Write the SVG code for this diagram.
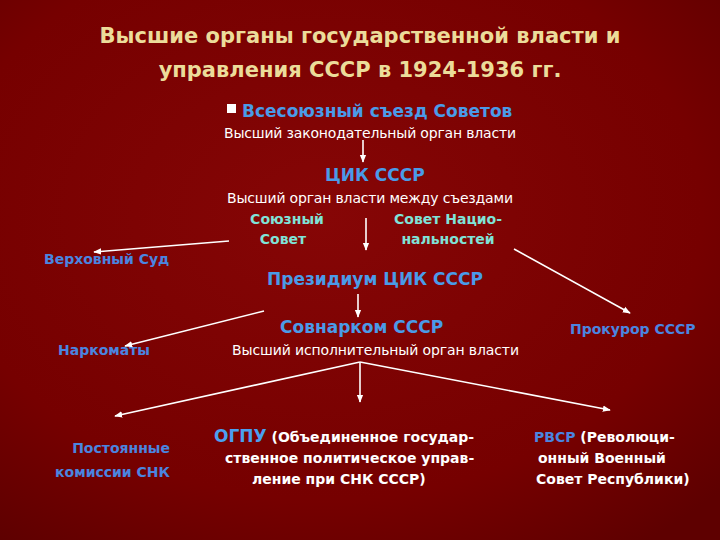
<svg xmlns="http://www.w3.org/2000/svg" width="720" height="540" viewBox="0 0 720 540">
<defs>
<radialGradient id="bg" cx="0.45" cy="0.4" r="0.75">
<stop offset="0" stop-color="#860606"/>
<stop offset="0.7" stop-color="#760000"/>
<stop offset="1" stop-color="#5e0000"/>
</radialGradient>
<marker id="ah" viewBox="0 0 10 10" refX="9" refY="5" markerWidth="5" markerHeight="5" orient="auto"><path d="M0,1 L10,5 L0,9 z" fill="#fff"/></marker>
</defs>
<style>
text{font-family:"DejaVu Sans","Liberation Sans",sans-serif}
.t{fill:#ecdc9a;font-weight:bold;font-size:21px;text-anchor:middle}
.b{fill:#4a9be8;font-weight:bold;font-size:17px}
.s{fill:#4a85e0;font-weight:bold;font-size:14px}
.w{fill:#fff;font-size:14px}
.wb{fill:#fff;font-weight:bold;font-size:14px}
.c{fill:#7fe3d8;font-weight:bold;font-size:14px;text-anchor:middle}
line{stroke:#fff;stroke-width:1.6;marker-end:url(#ah)}
</style>
<rect width="720" height="540" fill="url(#bg)"/>
<g id="title"><text class="t" x="360" y="43">Высшие органы государственной власти и</text><text class="t" x="360" y="77">управления СССР в 1924-1936 гг.</text></g>
<g id="congress"><rect x="227" y="104" width="9" height="9" fill="#fff"/><text class="b" x="242" y="117">Всесоюзный съезд Советов</text><text class="w" x="224" y="138" textLength="292">Высший законодательный орган власти</text></g>
<g id="cik"><text class="b" x="325" y="181">ЦИК СССР</text><text class="w" x="227" y="203" textLength="286">Высший орган власти между съездами</text></g>
<g id="soyuz"><text class="c" x="287" y="224">Союзный</text><text class="c" x="283" y="244">Совет</text></g>
<g id="nac"><text class="c" x="448" y="224">Совет Нацио-</text><text class="c" x="448" y="244">нальностей</text></g>
<g id="sud"><text class="s" x="44" y="264">Верховный Суд</text></g>
<g id="prez"><text class="b" x="267" y="285">Президиум ЦИК СССР</text></g>
<g id="sovnarkom"><text class="b" x="280" y="333">Совнарком СССР</text><text class="w" x="232" y="355" textLength="287">Высший исполнительный орган власти</text></g>
<g id="narkom"><text class="s" x="58" y="355">Наркоматы</text></g>
<g id="prok"><text class="s" x="570" y="334">Прокурор СССР</text></g>
<g id="comm"><text class="s" x="170" y="453" text-anchor="end">Постоянные</text><text class="s" x="170" y="477" text-anchor="end">комиссии  СНК</text></g>
<g id="ogpu"><text x="214" y="442" class="wb"><tspan fill="#4aa0f0" font-size="17">ОГПУ</tspan> (Объединенное государ-</text><text class="wb" x="225" y="463">ственное политическое управ-</text><text class="wb" x="252" y="484">ление при СНК СССР)</text></g>
<g id="rvsr"><text x="534" y="442" class="wb"><tspan fill="#4a85e0">РВСР</tspan> (Революци-</text><text class="wb" x="538" y="463">онный Военный</text><text class="wb" x="536" y="484">Совет Республики)</text></g>
<g id="connectors">
<line x1="363" y1="140" x2="363" y2="162"/>
<line x1="366" y1="218" x2="366" y2="250"/>
<line x1="229" y1="241" x2="94" y2="252"/>
<line x1="514" y1="249" x2="630" y2="313"/>
<line x1="264" y1="311" x2="125" y2="346"/>
<line x1="358" y1="294" x2="358" y2="317"/>
<line x1="360" y1="362" x2="115" y2="416"/>
<line x1="360" y1="362" x2="360" y2="402"/>
<line x1="360" y1="362" x2="610" y2="410"/>
</g>
</svg>
